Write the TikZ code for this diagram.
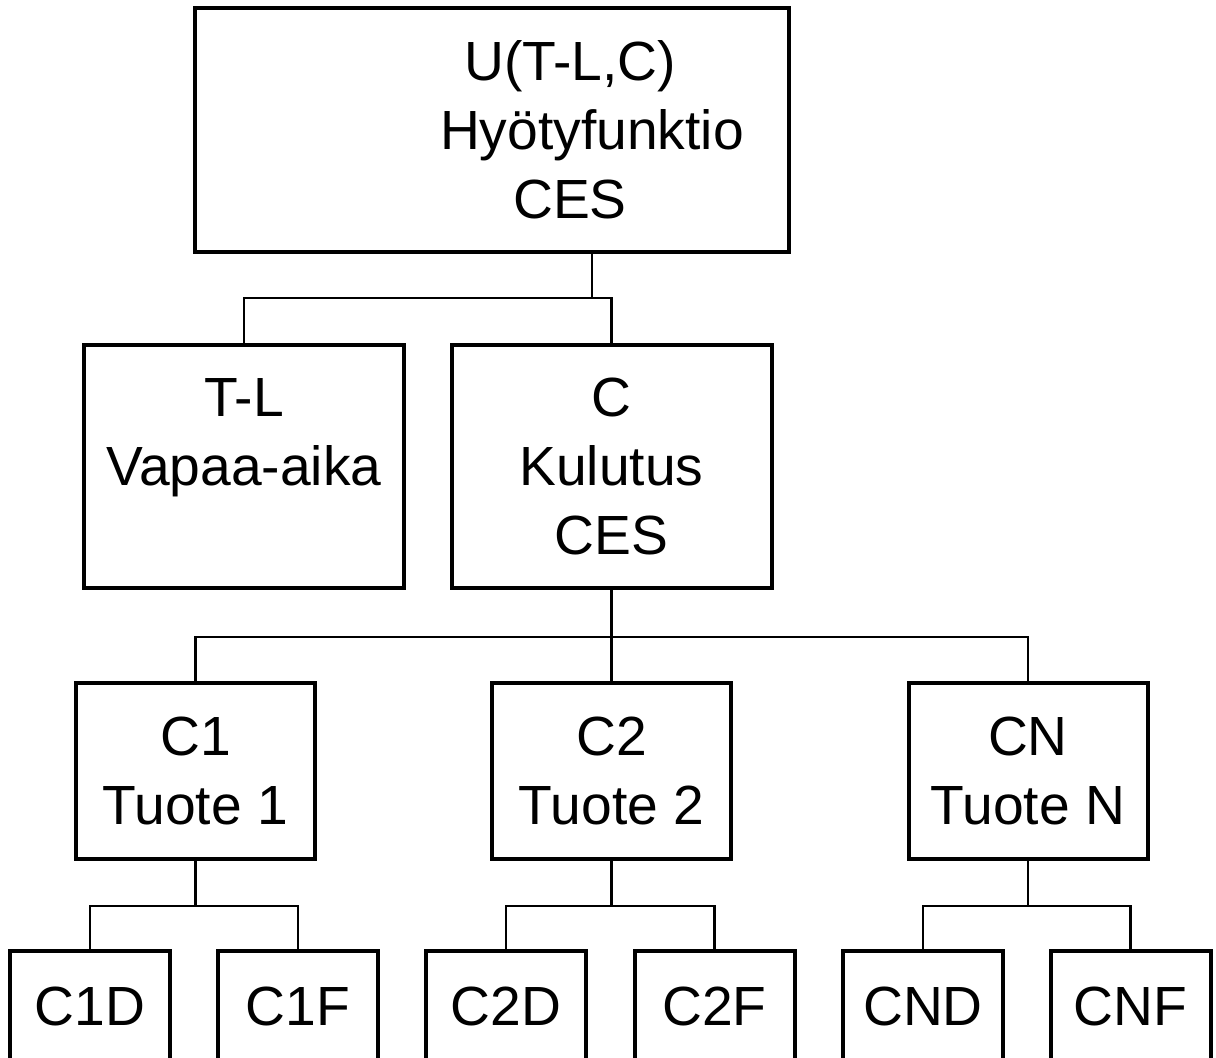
\documentclass[tikz,border=0pt]{standalone}
\usepackage{fontspec}
\setmainfont{Liberation Sans}

\begin{document}
\begin{tikzpicture}[x=0.5pt,y=-0.5pt,
  every node/.style={font=\fontsize{27.6}{34.5}\selectfont},
  box/.style={draw, line width=2pt, inner sep=0pt, align=center},
  bigbox/.style={box, minimum width=160pt, minimum height=121.5pt},
  midbox/.style={box, minimum width=119.5pt, minimum height=88pt},
  leafbox/.style={box, minimum width=80pt, minimum height=55.5pt},
  link/.style={line width=1.4pt}]
  \useasboundingbox (0,0) rectangle (1216,1057);

  % utility function
  \node[box, minimum width=297pt, minimum height=122pt] (util) at (492,130) {};
  \node[align=center] (utiltext) at (570,130) {U(T-L,C)\\\hspace*{22pt}Hyötyfunktio\\CES};

  % leisure and consumption
  \node[bigbox] (leisure) at (244,466.5) {T-L\\Vapaa-aika\\~};
  \node[bigbox] (cons) at (611.5,466.5) {C\\Kulutus\\CES};

  % products
  \node[midbox] (c1) at (195.5,771) {C1\\Tuote 1};
  \node[midbox] (c2) at (611.5,771) {C2\\Tuote 2};
  \node[midbox] (cn) at (1028,771) {CN\\Tuote N};

  % domestic / foreign
  \node[leafbox] (c1d) at (90,1006.5) {C1D};
  \node[leafbox] (c1f) at (298,1006.5) {C1F};
  \node[leafbox] (c2d) at (506,1006.5) {C2D};
  \node[leafbox] (c2f) at (714.5,1006.5) {C2F};
  \node[leafbox] (cnd) at (923,1006.5) {CND};
  \node[leafbox] (cnf) at (1130.5,1006.5) {CNF};

  % connectors
  \coordinate (j0) at (592,298);
  \coordinate (j1) at (611.5,637);
  \draw[link] (util.south -| j0) -- (j0);
  \draw[link] (leisure.north) |- (j0) -| (cons.north);
  \draw[link] (cons.south) -- (j1) -- (c2.north);
  \draw[link] (c1.north) |- (j1) -| (cn.north);
  \foreach \p/\a/\b in {c1/c1d/c1f, c2/c2d/c2f, cn/cnd/cnf} {
    \path (\p.south) ++(0,45) coordinate (j\p);
    \draw[link] (\p.south) -- (j\p);
    \draw[link] (\a.north) |- (j\p) -| (\b.north);
  }
\end{tikzpicture}
\end{document}
